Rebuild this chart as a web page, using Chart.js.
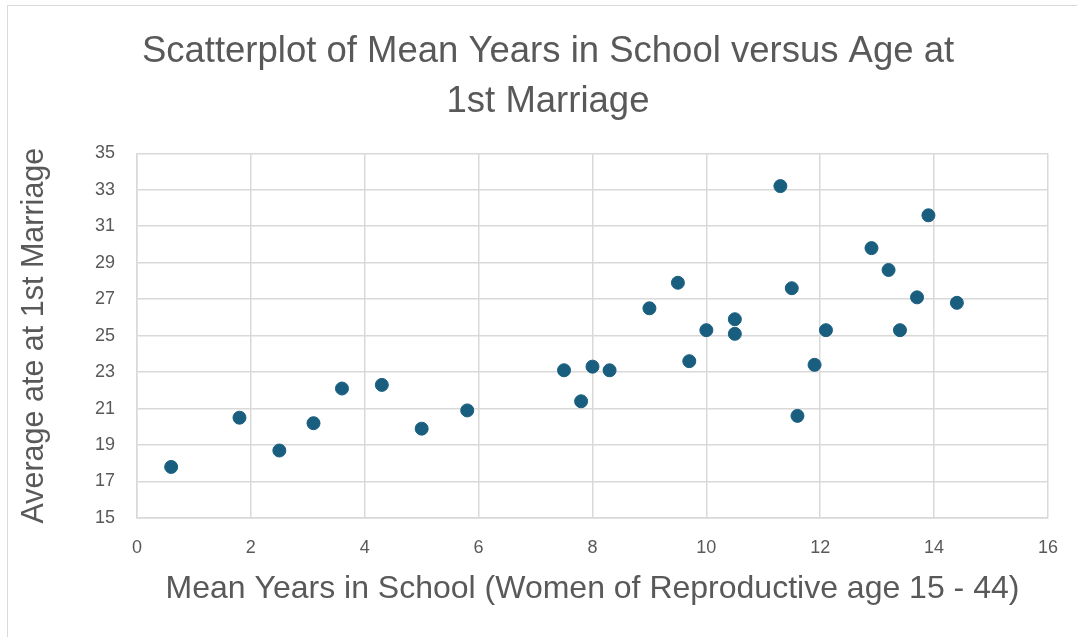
<!DOCTYPE html>
<html lang="en">
<head>
    <meta charset="UTF-8">
    <title>Scatterplot of Mean Years in School versus Age at 1st Marriage</title>
    <script src="https://cdn.jsdelivr.net/npm/chart.js"></script>
    <style>
        html, body {
            margin: 0;
            padding: 0;
            background: #ffffff;
            overflow: hidden;
        }
        .frame {
            position: absolute;
            left: 7px;
            top: 5px;
            width: 1200px;
            height: 800px;
            border: 1px solid #d9d9d9;
        }
        .chart-box {
            position: absolute;
            left: 0;
            top: 0;
            width: 1077px;
            height: 637px;
        }
    </style>
</head>
<body>
<div class="frame"></div>
<div class="chart-box">
    <canvas id="scatterChart"></canvas>
</div>
<script>
// mean years in school (women 15 - 44) vs average age at 1st marriage
const yearsInSchool = [0.6, 1.8, 2.5, 3.1, 3.6, 4.3, 5.0, 5.8, 7.5, 7.8, 8.0, 8.3, 9.0, 9.5, 9.7,
                       10.0, 10.5, 10.5, 11.3, 11.5, 11.6, 11.9, 12.1, 12.9, 13.2, 13.4, 13.7, 13.9, 14.4];
const ageAtMarriage = [17.8, 20.5, 18.7, 20.2, 22.1, 22.3, 19.9, 20.9, 23.1, 21.4, 23.3, 23.1, 26.5, 27.9, 23.6,
                       25.3, 25.9, 25.1, 33.2, 27.6, 20.6, 23.4, 25.3, 29.8, 28.6, 25.3, 27.1, 31.6, 26.8];

const titleLines = ['Scatterplot of Mean Years in School versus Age at', '1st Marriage'];
const xTitle = 'Mean Years in School (Women of Reproductive age 15 - 44)';
const yTitle = 'Average ate at 1st Marriage';

const textColor = '#595959';
const gridColor = '#d9d9d9';
const dotColor = '#1a5e7f';
const fontFamily = "'Liberation Sans', Arial, sans-serif";

const points = yearsInSchool.map((x, i) => ({ x: x, y: ageAtMarriage[i] }));

// left padding is larger than right so the title sits a bit right of centre, like the original
const padLeft = 46;
const padRight = 27;

const config = {
  type: 'scatter',
  data: {
    datasets: [{
      label: 'Age at 1st Marriage',
      data: points,
      backgroundColor: dotColor,
      borderColor: dotColor,
      borderWidth: 1,
      pointRadius: 6.5,
      pointHoverRadius: 6.5
    }]
  },
  options: {
    responsive: true,
    maintainAspectRatio: false,
    animation: false,
    layout: {
      padding: { left: padLeft, right: padRight, top: 0, bottom: 0 }
    },
    plugins: {
      legend: { display: false },
      tooltip: { enabled: false },
      title: {
        display: true,
        text: titleLines,
        color: textColor,
        font: { family: fontFamily, size: 36.5, weight: 'normal', lineHeight: 1.36 },
        padding: { top: 27, bottom: 27 }
      }
    },
    scales: {
      x: {
        type: 'linear',
        min: 0,
        max: 16,
        border: { color: gridColor, width: 1.5 },
        grid: { color: gridColor, lineWidth: 1.5, drawTicks: false },
        ticks: {
          stepSize: 2,
          padding: 19,
          color: textColor,
          font: { family: fontFamily, size: 18 }
        },
        title: {
          display: true,
          text: xTitle,
          color: textColor,
          font: { family: fontFamily, size: 32 },
          padding: { top: 0, bottom: 29 }
        },
        afterFit: function (scale) {
          scale.height = 637 - 518;
        }
      },
      y: {
        min: 15,
        max: 35,
        border: { color: gridColor, width: 1.5 },
        grid: { color: gridColor, lineWidth: 1.5, drawTicks: false },
        ticks: {
          stepSize: 2,
          padding: 22,
          color: textColor,
          font: { family: fontFamily, size: 18 }
        },
        title: {
          display: true,
          text: yTitle,
          color: textColor,
          font: { family: fontFamily, size: 30.5 },
          padding: { top: -30, bottom: 0 }
        },
        afterFit: function (scale) {
          scale.width = 137 - padLeft;
        }
      }
    }
  }
};

const ctx = document.getElementById('scatterChart').getContext('2d');
new Chart(ctx, config);
</script>
</body>
</html>
